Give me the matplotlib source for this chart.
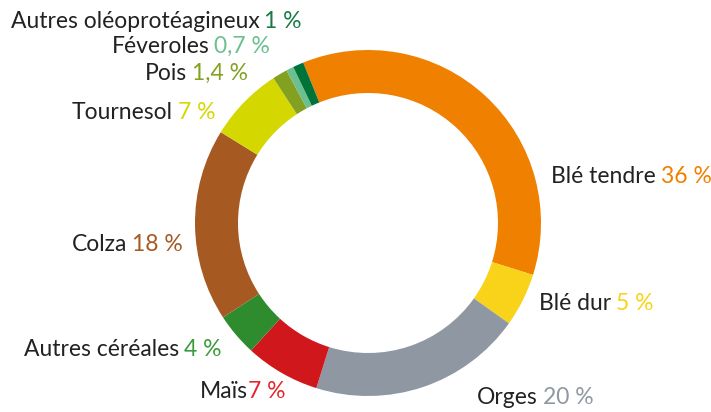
import matplotlib

matplotlib.use("Agg")
import matplotlib.pyplot as plt

# Repartition des surfaces (en %)
labels = ["Blé tendre", "Blé dur", "Orges", "Maïs", "Autres céréales", "Colza",
          "Tournesol", "Pois", "Féveroles", "Autres oléoprotéagineux"]
values = [36, 5, 20, 7, 4, 18, 7, 1.4, 0.7, 1]
pct_text = ["36 %", "5 %", "20 %", "7 %", "4 %", "18 %", "7 %", "1,4 %", "0,7 %", "1 %"]
colors = ["#f08000", "#f9d21a", "#8f98a2", "#d0181c", "#2f8c2e", "#a65a22",
          "#d4d800", "#84a021", "#6cbf8e", "#00733a"]
text_colors = ["#f08000", "#f9d21a", "#8f98a2", "#e0282e", "#3a9a3a", "#a65a22",
               "#d4d800", "#84a021", "#6cbf8e", "#1a7a45"]

# position des etiquettes en pixels (x, y centre) et alignement
label_pos = [(551, 176, "left"), (539, 303, "left"), (477, 398, "left"),
             (285, 392, "right"), (222, 350, "right"), (183, 244, "right"),
             (215, 112, "right"), (248, 73, "right"), (270, 46, "right"),
             (302, 21, "right")]

W, H = 711, 412
plt.rcParams["font.family"] = ["Lato", "DejaVu Sans"]

fig = plt.figure(figsize=(W / 100, H / 100), dpi=100)
ax = fig.add_axes([0, 0, 1, 1])

ax.pie(values, colors=colors, startangle=112, counterclock=False,
       radius=173, center=(368, H - 223),
       wedgeprops=dict(width=43, edgecolor="none"))
ax.set_xlim(0, W)
ax.set_ylim(0, H)
ax.set_aspect("equal")
ax.axis("off")

renderer = fig.canvas.get_renderer()
FS = 16.5
gap = 5
style = dict(va="center", fontsize=FS)

for name, pct, tcol, (x, y, ha) in zip(labels, pct_text, text_colors, label_pos):
    yy = H - y
    sep = 0 if name == "Maïs" else gap
    if ha == "left":
        t = ax.text(x, yy, name, ha="left", color="#222222", **style)
        w = t.get_window_extent(renderer).width
        ax.text(x + w + sep, yy, pct, ha="left", color=tcol, **style)
    else:
        t = ax.text(x, yy, pct, ha="right", color=tcol, **style)
        w = t.get_window_extent(renderer).width
        ax.text(x - w - sep, yy, name, ha="right", color="#222222", **style)

fig.savefig("out.png", dpi=100)
